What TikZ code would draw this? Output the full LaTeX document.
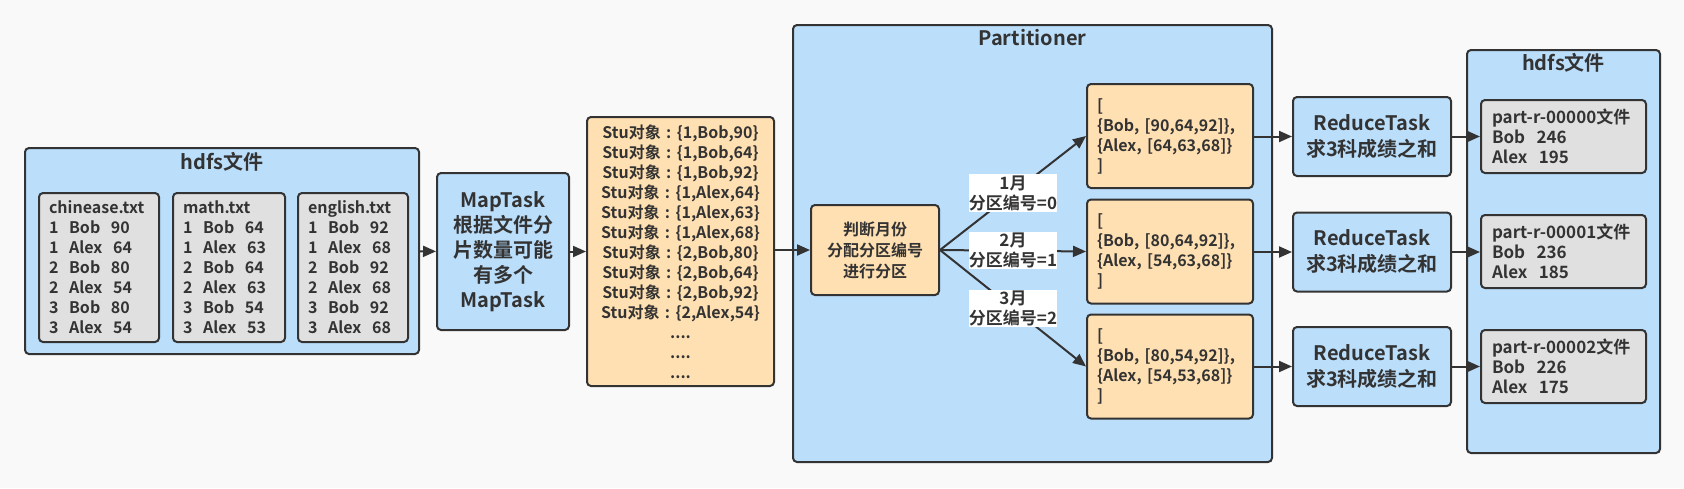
\documentclass[tikz,border=0pt]{standalone}
\usepackage{fontspec}
\setmainfont{Noto Sans CJK SC}[BoldFont={Noto Sans CJK SC Bold}]
\usepackage{tikz}
\usetikzlibrary{arrows.meta,positioning}

\definecolor{ink}{HTML}{333333}
\definecolor{bluebox}{HTML}{BBDEFB}
\definecolor{orangebox}{HTML}{FFE0B2}
\definecolor{graybox}{HTML}{E0E0E0}
\definecolor{paper}{HTML}{F9F9F9}

\newcommand{\stucolon}{\makebox[1em]{:}}

\tikzset{
  box/.style={draw=ink, line width=2pt, rounded corners=4pt, text=ink,
    font=\bfseries, inner sep=0pt, align=center},
  bluebox/.style={box, fill=bluebox},
  orangebox/.style={box, fill=orangebox},
  filebox/.style={box, fill=graybox, inner xsep=10pt, align=left},
  title/.style={text=ink, font=\fontsize{20}{24}\selectfont\bfseries},
  flow/.style={draw=ink, line width=2pt, -{Triangle[length=13pt,width=11pt]}},
  month/.style={fill=white, text=ink, inner xsep=0pt, inner ysep=1pt,
    font=\fontsize{17}{20}\selectfont\bfseries, align=center}
}

\begin{document}
\begin{tikzpicture}[x=1pt,y=-1pt]
\fill[paper] (0,0) rectangle (1684,488);
\useasboundingbox (0,0) rectangle (1684,488);

% input files
\node[bluebox, minimum width=394pt, minimum height=206pt] (hdfsin) at (222,251) {};
\node[title] (hdfsintitle) at (222,162) {hdfs文件};
\node[filebox, text width=100pt, minimum height=149pt,
  font=\fontsize{16}{20}\selectfont\bfseries] (chinese) at (99,267.5)
  {chinease.txt\\1\ \ Bob\ \ 90\\1\ \ Alex\ \ 64\\2\ \ Bob\ \ 80\\2\ \ Alex\ \ 54\\3\ \ Bob\ \ 80\\3\ \ Alex\ \ 54};
\node[filebox, text width=92pt, minimum height=149pt,
  font=\fontsize{16}{20}\selectfont\bfseries] (math) at (229,267.5)
  {math.txt\\1\ \ Bob\ \ 64\\1\ \ Alex\ \ 63\\2\ \ Bob\ \ 64\\2\ \ Alex\ \ 63\\3\ \ Bob\ \ 54\\3\ \ Alex\ \ 53};
\node[filebox, text width=90pt, minimum height=149pt,
  font=\fontsize{16}{20}\selectfont\bfseries] (english) at (353,267.5)
  {english.txt\\1\ \ Bob\ \ 92\\1\ \ Alex\ \ 68\\2\ \ Bob\ \ 92\\2\ \ Alex\ \ 68\\3\ \ Bob\ \ 92\\3\ \ Alex\ \ 68};

% map
\node[bluebox, minimum width=132pt, minimum height=157pt,
  font=\fontsize{20}{25}\selectfont\bfseries] (map) at (503,251.5)
  {MapTask\\根据文件分\\片数量可能\\有多个\\MapTask};

\node[orangebox, minimum width=187pt, minimum height=269pt,
  font=\fontsize{16}{20}\selectfont\bfseries] (stu) at (680.5,251.5)
  {Stu对象\stucolon\{1,Bob,90\}\\Stu对象\stucolon\{1,Bob,64\}\\Stu对象\stucolon\{1,Bob,92\}\\
   Stu对象\stucolon\{1,Alex,64\}\\Stu对象\stucolon\{1,Alex,63\}\\Stu对象\stucolon\{1,Alex,68\}\\
   Stu对象\stucolon\{2,Bob,80\}\\Stu对象\stucolon\{2,Bob,64\}\\Stu对象\stucolon\{2,Bob,92\}\\
   Stu对象\stucolon\{2,Alex,54\}\\....\\....\\....};

% partitioner
\node[bluebox, minimum width=479pt, minimum height=437pt] (partitioner) at (1032.5,243.5) {};
\node[title] (partitionertitle) at (1032.5,38) {Partitioner};
\node[orangebox, minimum width=128pt, minimum height=90pt,
  font=\fontsize{16}{21}\selectfont\bfseries] (judge) at (875,250)
  {判断月份\\分配分区编号\\进行分区};

\node[orangebox, minimum width=166pt, minimum height=104pt, inner xsep=10pt,
  text width=146pt, align=left, font=\fontsize{16}{20}\selectfont\bfseries] (group0) at (1170,136)
  {[\\\{Bob, [90,64,92]\},\\\{Alex, [64,63,68]\}\\]};
\node[orangebox, minimum width=166pt, minimum height=104pt, inner xsep=10pt,
  text width=146pt, align=left, font=\fontsize{16}{20}\selectfont\bfseries] (group1) at (1170,251.5)
  {[\\\{Bob, [80,64,92]\},\\\{Alex, [54,63,68]\}\\]};
\node[orangebox, minimum width=166pt, minimum height=104pt, inner xsep=10pt,
  text width=146pt, align=left, font=\fontsize{16}{20}\selectfont\bfseries] (group2) at (1170,366.5)
  {[\\\{Bob, [80,54,92]\},\\\{Alex, [54,53,68]\}\\]};

% reduce
\node[bluebox, minimum width=158pt, minimum height=79pt,
  font=\fontsize{20}{26}\selectfont\bfseries] (reduce0) at (1372,136.5) {ReduceTask\\求3科成绩之和};
\node[bluebox, minimum width=158pt, minimum height=79pt,
  font=\fontsize{20}{26}\selectfont\bfseries] (reduce1) at (1372,252) {ReduceTask\\求3科成绩之和};
\node[bluebox, minimum width=158pt, minimum height=79pt,
  font=\fontsize{20}{26}\selectfont\bfseries] (reduce2) at (1372,366.5) {ReduceTask\\求3科成绩之和};

% output files
\node[bluebox, minimum width=193pt, minimum height=403pt] (hdfsout) at (1563.5,251.5) {};
\node[title] (hdfsouttitle) at (1563.5,63) {hdfs文件};
\node[filebox, inner xsep=11pt, text width=143pt, minimum height=73pt,
  font=\fontsize{17}{20}\selectfont\bfseries] (out0) at (1563.5,136.5)
  {part-r-00000文件\\Bob\ \ 246\\Alex\ \ 195};
\node[filebox, inner xsep=11pt, text width=143pt, minimum height=73pt,
  font=\fontsize{17}{20}\selectfont\bfseries] (out1) at (1563.5,251.5)
  {part-r-00001文件\\Bob\ \ 236\\Alex\ \ 185};
\node[filebox, inner xsep=11pt, text width=143pt, minimum height=73pt,
  font=\fontsize{17}{20}\selectfont\bfseries] (out2) at (1563.5,366.5)
  {part-r-00002文件\\Bob\ \ 226\\Alex\ \ 175};

% connectors
\draw[flow] (hdfsin) -- (map);
\draw[flow] (map) -- (stu);
\draw[flow] (stu.east |- judge) -- (judge);
\draw[flow] (judge.east) -- (group0.west) node[month, midway] (m0) {1月\\分区编号=0};
\draw[flow] (judge.east) -- (group1.west) node[month, midway] (m1) {2月\\分区编号=1};
\draw[flow] (judge.east) -- (group2.west) node[month, midway] (m2) {3月\\分区编号=2};
\foreach \i in {0,1,2} {
  \draw[flow] (group\i.east |- reduce\i) -- (reduce\i);
  \draw[flow] (reduce\i) -- (out\i.west |- reduce\i);
}
\end{tikzpicture}
\end{document}
